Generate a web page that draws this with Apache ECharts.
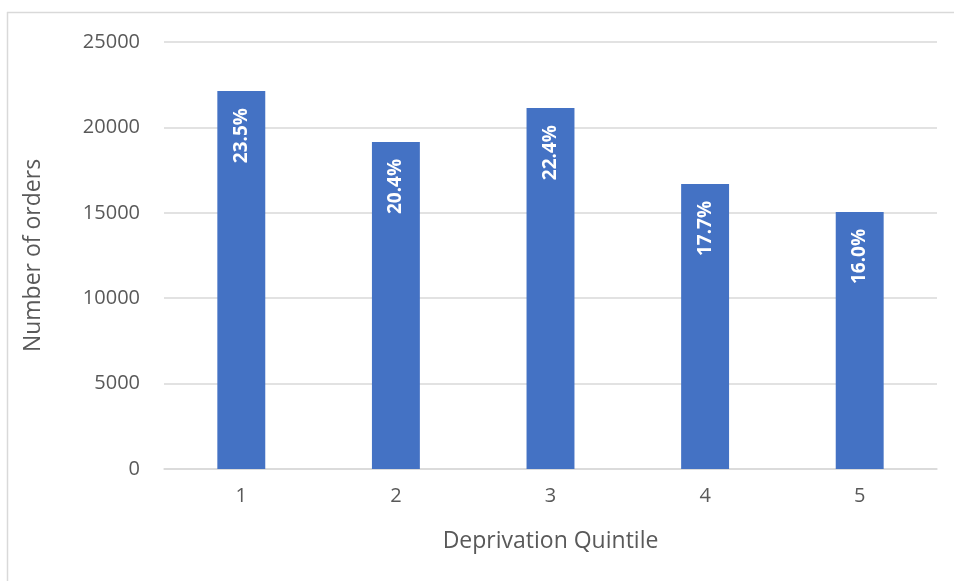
<!DOCTYPE html>
<html>
<head>
<meta charset="utf-8">
<script src="https://cdn.jsdelivr.net/npm/echarts@6/dist/echarts.min.js"></script>
<style>
  html, body { margin: 0; padding: 0; background: #fff; }
  #chart { width: 954px; height: 581px; }
</style>
</head>
<body>
<div id="chart"></div>
<script>
// Orders per deprivation quintile, with each quintile's share of the total
const quintiles = ['1', '2', '3', '4', '5'];
const orders = [22130, 19150, 21130, 16690, 15050];
const shareLabels = ['23.5%', '20.4%', '22.4%', '17.7%', '16.0%'];
const yTicks = [0, 5000, 10000, 15000, 20000, 25000];

const FONT = '"Open Sans", "Noto Sans", sans-serif';
const TEXT = '#595959';

const chart = echarts.init(document.getElementById('chart'), null, { renderer: 'canvas' });

chart.setOption({
  animation: false,
  backgroundColor: '#ffffff',
  textStyle: { fontFamily: FONT },
  grid: { left: 164, right: 17, top: 42, bottom: 112, containLabel: false },
  graphic: [
    // outer frame (top and left edges)
    { type: 'line', shape: { x1: 7, y1: 12.5, x2: 954, y2: 12.5 }, style: { stroke: '#d9d9d9', lineWidth: 1.5 } },
    { type: 'line', shape: { x1: 7.5, y1: 12, x2: 7.5, y2: 581 }, style: { stroke: '#d9d9d9', lineWidth: 1.5 } }
  ],
  xAxis: {
    type: 'category',
    data: quintiles,
    name: 'Deprivation Quintile',
    nameLocation: 'middle',
    nameGap: 61,
    nameTextStyle: { color: TEXT, fontSize: 23, fontFamily: FONT },
    axisLine: { show: true, lineStyle: { color: '#d9d9d9', width: 1.5 } },
    axisTick: { show: false },
    axisLabel: { color: TEXT, fontSize: 20, margin: 17, fontFamily: FONT }
  },
  yAxis: {
    type: 'value',
    min: yTicks[0],
    max: yTicks[yTicks.length - 1],
    interval: yTicks[1] - yTicks[0],
    name: 'Number of orders',
    nameLocation: 'middle',
    nameGap: 119,
    nameTextStyle: { color: TEXT, fontSize: 23, fontFamily: FONT },
    axisLine: { show: false },
    axisTick: { show: false },
    splitLine: { lineStyle: { color: '#d9d9d9', width: 1.5 } },
    axisLabel: { color: TEXT, fontSize: 20, margin: 24, fontFamily: FONT, formatter: v => String(v) }
  },
  series: [{
    type: 'bar',
    data: orders,
    barWidth: '31%',
    itemStyle: { color: '#4472c4' },
    label: {
      show: true,
      position: 'insideTop',
      rotate: 90,
      align: 'right',
      verticalAlign: 'middle',
      distance: 17,
      color: '#ffffff',
      fontWeight: 'bold',
      fontSize: 19,
      fontFamily: FONT,
      formatter: p => shareLabels[p.dataIndex]
    }
  }]
});
</script>
</body>
</html>
